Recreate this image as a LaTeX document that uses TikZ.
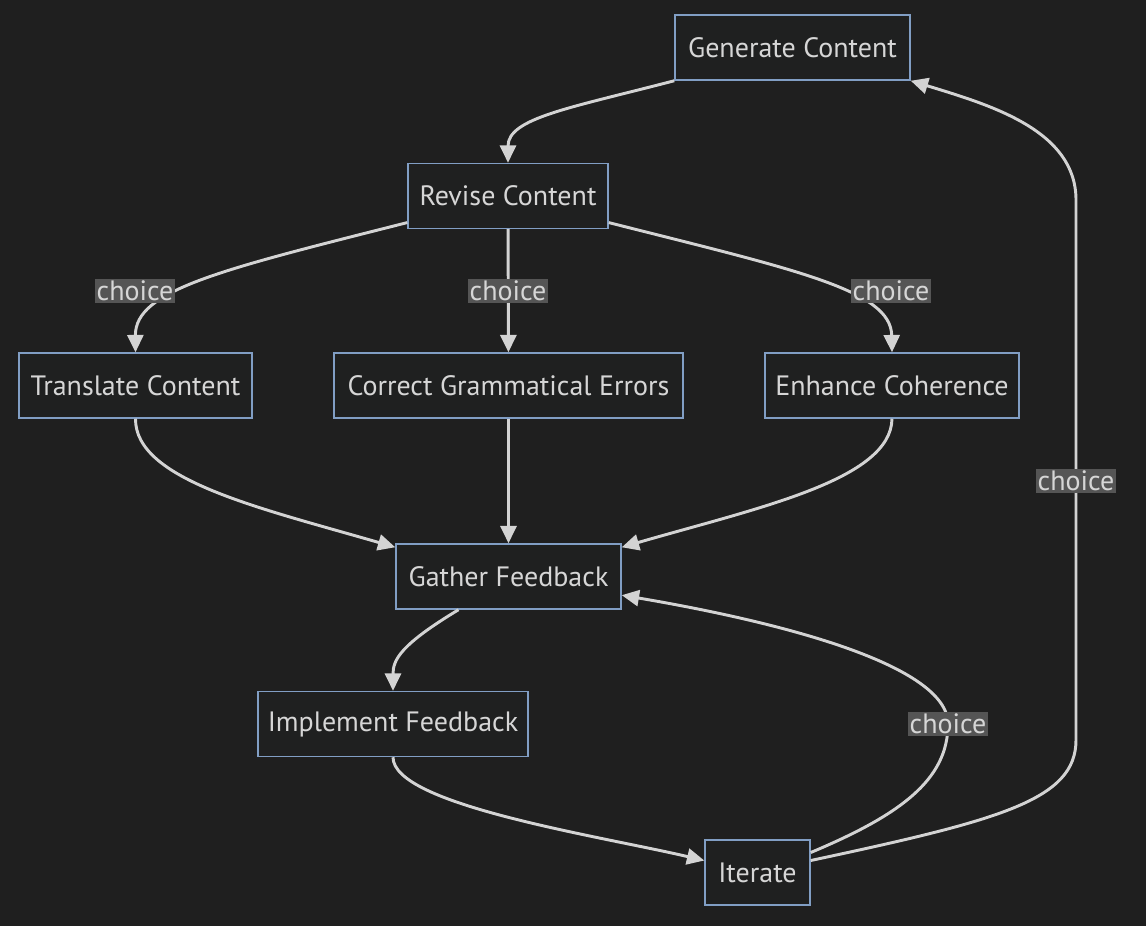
\documentclass[tikz,border=0pt]{standalone}
\usepackage{fontspec}
\setmainfont{PT Sans}
\usetikzlibrary{arrows.meta}
\definecolor{bgdark}{RGB}{31,31,31}
\definecolor{boxfill}{RGB}{31,32,32}
\definecolor{boxblue}{RGB}{129,158,196}
\definecolor{txtgray}{RGB}{214,214,214}
\definecolor{linegray}{RGB}{211,211,211}
\definecolor{lblgray}{RGB}{85,85,85}

\begin{document}
\begin{tikzpicture}[x=0.75pt, y=-0.75pt,
every node/.style={align=center, font=\fontsize{21}{25}\selectfont}, >={Triangle[length=13pt, width=12pt]},
box/.style={rectangle, draw=boxblue, fill=boxfill, text=txtgray, line width=1.1pt, minimum height=48.75pt, inner sep=0pt},
lbl/.style={fill=lblgray, text=txtgray, inner sep=1.2pt},
flow/.style={->, draw=linegray, line width=2.2pt}]

  % Background
  \fill[bgdark] (0,0) rectangle (1146,926);

  % Steps
  \node[box, minimum width=176.25pt] (gen) at (792.5,47.5) {Generate Content};
  \node[box, minimum width=150pt] (rev) at (508,196) {Revise Content};
  \node[box, minimum width=174.75pt] (trans) at (135.5,385.5) {Translate Content};
  \node[box, minimum width=261.75pt] (gram) at (508.5,385.5) {Correct Grammatical Errors};
  \node[box, minimum width=190.5pt] (coh) at (892,385.5) {Enhance Coherence};
  \node[box, minimum width=168.75pt] (gather) at (508.5,576.5) {Gather Feedback};
  \node[box, minimum width=202.5pt] (impl) at (393,724) {Implement Feedback};
  \node[box, minimum width=78.75pt] (iter) at (757.5,872.5) {Iterate};

  % Connectors
  \draw[flow] (gen.south west) .. controls (570,108) and (508,118) .. (rev.north);
  \draw[flow] ([yshift=5pt]rev.south west) .. controls (220,270) and (135,290) .. (trans.north);
  \draw[flow] (rev) -- (gram);
  \draw[flow] ([yshift=5pt]rev.south east) .. controls (796,270) and (891,290) .. (coh.north);
  \draw[flow] (trans.south) .. controls (135,480) and (260,508) .. ([yshift=-3pt]gather.north west);
  \draw[flow] (gram) -- (gather);
  \draw[flow] (coh.south) .. controls (891,480) and (757,508) .. ([yshift=-3pt]gather.north east);
  \draw[flow] ([xshift=-37.5pt]gather.south) .. controls (400,645) and (393,660) .. (impl.north);
  \draw[flow] (impl.south) .. controls (393,805) and (600,836) .. ([yshift=9pt]iter.west);
  \draw[flow] ([yshift=15pt]iter.east) .. controls (900,815) and (948,780) .. (948,724)
    .. controls (948,665) and (780,622) .. ([yshift=-14pt]gather.east);
  \draw[flow] ([yshift=9pt]iter.east) .. controls (1000,820) and (1076,800) .. (1076,740)
    -- (1076,200) .. controls (1076,130) and (990,105) .. (gen.south east);

  % Labels
  \node[lbl] (c1) at (135,291) {choice};
  \node[lbl] (c2) at (508,291) {choice};
  \node[lbl] (c3) at (891,291) {choice};
  \node[lbl] (c4) at (1076,481) {choice};
  \node[lbl] (c5) at (948,724) {choice};

\end{tikzpicture}
\end{document}
